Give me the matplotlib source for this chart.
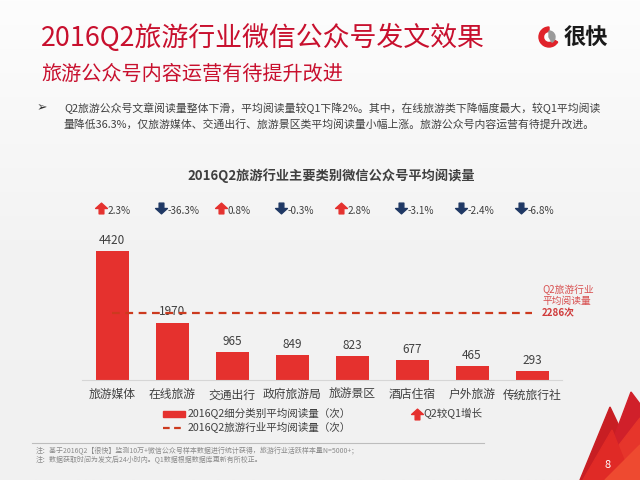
import numpy as np
import matplotlib
matplotlib.use('Agg')
import matplotlib.pyplot as plt
from matplotlib.path import Path
from matplotlib.patches import Polygon, Rectangle, Wedge
from matplotlib.lines import Line2D

plt.rcParams['font.family'] = ['Noto Sans CJK SC', 'DejaVu Sans']

# data
categories = ['旅游媒体', '在线旅游', '交通出行', '政府旅游局', '旅游景区', '酒店住宿', '户外旅游', '传统旅行社']
avg_reads = [4420, 1970, 965, 849, 823, 677, 465, 293]
growth_pct = [2.3, -36.3, 0.8, -0.3, 2.8, -3.1, -2.4, -6.8]
industry_avg = 2286

RED = '#E5312E'
TITLE_RED = '#C8102E'
NAVY = '#1F3864'
GREY = '#404040'

W, H = 640, 480


def fx(x):
    return x / W


def fy(y):
    return 1 - y / H


def arrow_marker(up=True):
    verts = [(-0.22, -0.5), (0.22, -0.5), (0.22, 0.0), (0.55, 0.0), (0.0, 0.5),
             (-0.55, 0.0), (-0.22, 0.0), (-0.22, -0.5)]
    if not up:
        verts = [(x, -y) for x, y in verts]
    codes = [Path.MOVETO] + [Path.LINETO] * 6 + [Path.CLOSEPOLY]
    return Path(verts, codes)


fig = plt.figure(figsize=(6.4, 4.8), dpi=100)

# soft grey background with a lighter top
bg = fig.add_axes([0, 0, 1, 1], zorder=-10)
grad = np.linspace(0, 1, 256).reshape(-1, 1)
bg.imshow(grad, aspect='auto', cmap=matplotlib.colors.LinearSegmentedColormap.from_list(
    'bg', ['#FDFDFD', '#F3F3F3', '#F1F1F1']), extent=[0, 1, 0, 1])
bg.set_xlim(0, 1)
bg.set_ylim(0, 1)
bg.axis('off')

# titles
fig.text(fx(41), fy(38), '2016Q2旅游行业微信公众号发文效果', fontsize=19.4,
         color=TITLE_RED, va='center', ha='left')
fig.text(fx(41), fy(74), '旅游公众号内容运营有待提升改进', fontsize=14.5,
         color=TITLE_RED, va='center', ha='left')

# logo
fig.patches.append(Wedge((549, 480 - 37), 10, 90, 330, width=4.5, color='#E0222A',
                         transform=None, figure=fig))
fig.patches.append(Wedge((549, 480 - 37), 6, 300, 90, color='#9A9A9A',
                         transform=None, figure=fig))
fig.text(fx(564), fy(38), '很快', fontsize=16, fontweight='bold', color='#1A1A1A',
         va='center', ha='left')

# bullet paragraph
fig.text(fx(37), fy(108), '➢', fontsize=9, color='#303030', va='center', family='DejaVu Sans')
fig.text(fx(64), fy(108), 'Q2旅游公众号文章阅读量整体下滑，平均阅读量较Q1下降2%。其中，在线旅游类下降幅度最大，较Q1平均阅读',
         fontsize=7.8, color=GREY, va='center')
fig.text(fx(64), fy(124), '量降低36.3%，仅旅游媒体、交通出行、旅游景区类平均阅读量小幅上涨。旅游公众号内容运营有待提升改进。',
         fontsize=7.8, color=GREY, va='center')

# chart title
fig.text(fx(331), fy(176), '2016Q2旅游行业主要类别微信公众号平均阅读量', fontsize=9.5,
         fontweight='bold', color=GREY, va='center', ha='center')

# main bar chart
ax = fig.add_axes([fx(82), fy(380), 480 / W, 175 / H])
ax.set_facecolor('none')
x = np.arange(len(categories))
ax.bar(x, avg_reads, width=0.55, color=RED, zorder=2)
ax.set_xlim(-0.5, len(categories) - 0.5)
ax.set_ylim(0, 6000)
ax.set_yticks([])
ax.set_xticks(x)
ax.set_xticklabels(categories, fontsize=8.5, color=GREY)
ax.tick_params(axis='x', length=0, pad=6)
for s in ['top', 'left', 'right']:
    ax.spines[s].set_visible(False)
ax.spines['bottom'].set_color('#D6D6D6')

for i, v in enumerate(avg_reads):
    ax.annotate(str(v), (i, v), xytext=(0, 3), textcoords='offset points',
                ha='center', va='bottom', fontsize=8.5, color=GREY, zorder=1)

# industry average dashed line
ax.plot([0, len(categories) - 1], [industry_avg, industry_avg], color='#CC3A1E',
        lw=1.6, dashes=(3.5, 2.5), zorder=3)
ax.text(len(categories) - 1 + 0.17, industry_avg, '2286次', fontsize=7, fontweight='bold',
        color='#D03A3A', va='center', ha='left', clip_on=False)
ax.text(len(categories) - 1 + 0.17, industry_avg + 420, '平均阅读量', fontsize=7,
        color='#D85050', va='center', ha='left', clip_on=False)
ax.text(len(categories) - 1 + 0.17, industry_avg + 820, 'Q2旅游行业', fontsize=7,
        color='#D85050', va='center', ha='left', clip_on=False)

# growth arrows above the bars
arrow_y = 5900
for i, g in enumerate(growth_pct):
    up = g >= 0
    ax.plot(i - 0.18, arrow_y, marker=arrow_marker(up), markersize=8.5,
            color=RED if up else NAVY, clip_on=False, linestyle='none')
    ax.text(i - 0.07, arrow_y - 110, f'{g}%', fontsize=7.2, color=GREY,
            va='center', ha='left', clip_on=False)

# legend
fig.patches.append(Rectangle((fx(163), fy(417)), 22 / W, 6 / H, color=RED,
                             transform=fig.transFigure, figure=fig))
fig.lines.append(Line2D([fx(163), fx(185)], [fy(428), fy(428)], color='#CC3A1E',
                        lw=1.6, dashes=(3, 2), transform=fig.transFigure, figure=fig))
fig.text(fx(188), fy(414), '2016Q2细分类别平均阅读量（次）', fontsize=7.6, color=GREY, va='center')
fig.text(fx(188), fy(428), '2016Q2旅游行业平均阅读量（次）', fontsize=7.6, color=GREY, va='center')
fig.lines.append(Line2D([fx(417)], [fy(414)], marker=arrow_marker(True), markersize=8.5,
                        color=RED, linestyle='none', transform=fig.transFigure, figure=fig))
fig.text(fx(423), fy(414), 'Q2较Q1增长', fontsize=7.6, color=GREY, va='center')

# footnotes
fig.lines.append(Line2D([fx(32), fx(484)], [fy(443), fy(443)], color='#BDBDBD', lw=0.8,
                        transform=fig.transFigure, figure=fig))
fig.text(fx(36), fy(451), '注：基于2016Q2【很快】监测10万+微信公众号样本数据进行统计获得，旅游行业活跃样本量N=5000+；',
         fontsize=5, color='#8A8A8A', va='center')
fig.text(fx(36), fy(460), '注：数据获取时间为发文后24小时内。Q1数据根据数据库更新有所校正。',
         fontsize=5, color='#8A8A8A', va='center')

# red mountain decoration bottom-right
shapes = [
    ([(580, 480), (610, 407), (628, 445), (606, 480)], '#C81E23'),
    ([(598, 480), (631, 392), (640, 404), (640, 480)], '#D0202A'),
    ([(592, 480), (640, 418), (640, 480)], '#E6352B'),
    ([(583, 480), (612, 430), (632, 480)], '#E02A26'),
    ([(605, 480), (640, 445), (640, 480)], '#EE4A30'),
]
for pts, c in shapes:
    fig.patches.append(Polygon([(fx(px), fy(py)) for px, py in pts], closed=True,
                               color=c, transform=fig.transFigure, figure=fig))
fig.text(fx(608), fy(465), '8', fontsize=8, color='white', va='center', ha='center')

fig.savefig('out.png', dpi=100)
